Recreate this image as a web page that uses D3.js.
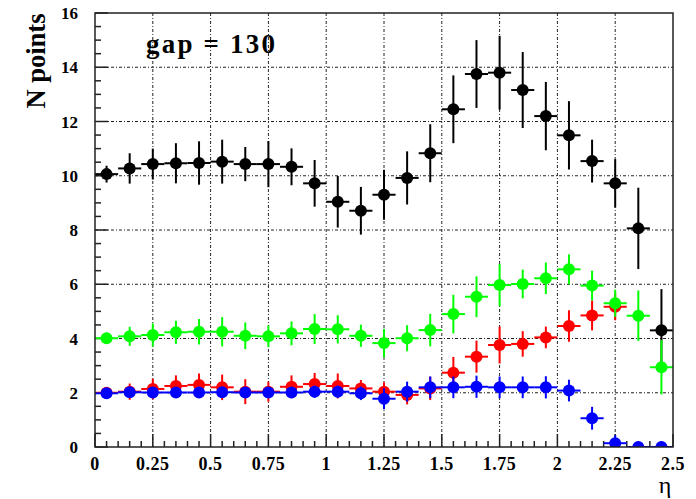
<!DOCTYPE html>
<html>
<head>
<meta charset="utf-8">
<script src="https://cdn.jsdelivr.net/npm/d3@7"></script>
<style>
  body { margin: 0; background: #fff; }
  text { font-family: "Liberation Serif", "DejaVu Serif", serif; }
</style>
</head>
<body>
<svg id="chart" width="696" height="499"></svg>
<script>
// bin centres in eta (bin width 0.1)
const eta = [0.05, 0.15, 0.25, 0.35, 0.45, 0.55, 0.65, 0.75, 0.85, 0.95,
  1.05, 1.15, 1.25, 1.35, 1.45, 1.55, 1.65, 1.75, 1.85, 1.95,
  2.05, 2.15, 2.25, 2.35, 2.45];

const blackVals = [10.06, 10.27, 10.43, 10.46, 10.47, 10.52, 10.43, 10.43, 10.33, 9.72,
  9.04, 8.71, 9.30, 9.92, 10.83, 12.45, 13.75, 13.80, 13.16, 12.20,
  11.49, 10.54, 9.72, 8.06, 4.30];
const blackErrs = [0.31, 0.56, 0.57, 0.74, 0.8, 0.81, 0.63, 0.85, 0.68, 0.86,
  0.95, 0.88, 0.92, 0.98, 1.07, 1.25, 1.25, 1.36, 1.4, 1.26,
  1.26, 0.79, 0.89, 1.5, 1.52];

const greenVals = [4.01, 4.08, 4.13, 4.23, 4.25, 4.25, 4.10, 4.08, 4.19, 4.35,
  4.34, 4.10, 3.83, 4.01, 4.31, 4.90, 5.54, 5.97, 6.01, 6.22,
  6.55, 5.95, 5.30, 4.84, 2.94];
const greenErrs = [0.2, 0.35, 0.43, 0.43, 0.47, 0.54, 0.49, 0.4, 0.44, 0.55,
  0.52, 0.41, 0.52, 0.48, 0.6, 0.71, 0.75, 0.78, 0.53, 0.58,
  0.55, 0.55, 0.5, 0.93, 1.0];

// red has no visible points above eta = 2.3
const redVals = [2.0, 2.04, 2.14, 2.25, 2.29, 2.2, 2.04, 2.04, 2.22, 2.32,
  2.25, 2.16, 2.04, 1.92, 2.16, 2.74, 3.33, 3.76, 3.80, 4.04,
  4.46, 4.85, 5.17];
const redErrs = [0.15, 0.3, 0.38, 0.39, 0.42, 0.47, 0.46, 0.37, 0.42, 0.41,
  0.46, 0.31, 0.35, 0.35, 0.43, 0.58, 0.59, 0.68, 0.47, 0.4,
  0.58, 0.55, 0.5];

const blueVals = [1.98, 2.02, 2.01, 2.01, 2.01, 2.02, 2.01, 2.01, 2.01, 2.04,
  2.04, 1.98, 1.78, 2.04, 2.2, 2.2, 2.22, 2.2, 2.2, 2.2,
  2.08, 1.06, 0.14, 0, 0];
const blueErrs = [0.1, 0.15, 0.18, 0.2, 0.2, 0.2, 0.2, 0.2, 0.2, 0.22,
  0.22, 0.25, 0.39, 0.37, 0.4, 0.4, 0.41, 0.4, 0.4, 0.41,
  0.4, 0.42, 0.3, 0, 0];

const xTickLabels = ["0", "0.25", "0.5", "0.75", "1", "1.25", "1.5", "1.75", "2", "2.25", "2.5"];
const yTickLabels = ["0", "2", "4", "6", "8", "10", "12", "14", "16"];

const series = [
  { color: "#000000", vals: blackVals, errs: blackErrs },
  { color: "#ff0000", vals: redVals, errs: redErrs },
  { color: "#00ff00", vals: greenVals, errs: greenErrs },
  { color: "#0000ff", vals: blueVals, errs: blueErrs },
];

const svg = d3.select("#chart"),
  margin = { top: 13, right: 23, bottom: 52, left: 95 },
  width = +svg.attr("width") - margin.left - margin.right,
  height = +svg.attr("height") - margin.top - margin.bottom;

const x = d3.scaleLinear().domain([0, 2.5]).range([0, width]);
const y = d3.scaleLinear().domain([0, 16]).range([height, 0]);
const binHalf = 0.05;

const chart = svg.append("g")
  .attr("transform", `translate(${margin.left},${margin.top})`);

svg.append("defs").append("clipPath").attr("id", "plotclip")
  .append("rect").attr("x", 0).attr("y", 0).attr("width", width).attr("height", height);

// grid
const xMajor = xTickLabels.map(Number);
const yMajor = yTickLabels.map(Number);
chart.append("g").selectAll("line")
  .data(xMajor.slice(1, -1))
  .join("line")
  .attr("x1", (d) => x(d)).attr("x2", (d) => x(d))
  .attr("y1", 0).attr("y2", height)
  .attr("stroke", "#222").attr("stroke-width", 1)
  .attr("stroke-dasharray", "3,2,1,2");
chart.append("g").selectAll("line")
  .data(yMajor.slice(1, -1))
  .join("line")
  .attr("x1", 0).attr("x2", width)
  .attr("y1", (d) => y(d)).attr("y2", (d) => y(d))
  .attr("stroke", "#222").attr("stroke-width", 1)
  .attr("stroke-dasharray", "3,2,1,2");

// ticks (inward, ROOT style)
const xMinor = d3.range(0, 2.5001, 0.05);
chart.append("g").selectAll("line")
  .data(xMinor)
  .join("line")
  .attr("x1", (d) => x(d)).attr("x2", (d) => x(d))
  .attr("y1", height)
  .attr("y2", (d) => height - (Math.abs(d / 0.25 - Math.round(d / 0.25)) < 1e-6 ? 13 : 6))
  .attr("stroke", "#222").attr("stroke-width", 1.5);
const yMinor = d3.range(0, 16.001, 0.5);
chart.append("g").selectAll("line")
  .data(yMinor)
  .join("line")
  .attr("y1", (d) => y(d)).attr("y2", (d) => y(d))
  .attr("x1", 0)
  .attr("x2", (d) => (d % 2 === 0 ? 13 : 6))
  .attr("stroke", "#222").attr("stroke-width", 1.5);

// points with error bars
const plot = chart.append("g").attr("clip-path", "url(#plotclip)");
series.forEach((s) => {
  const pts = s.vals.map((v, i) => ({ x: eta[i], v: v, e: s.errs[i] }));
  const g = plot.append("g");
  g.selectAll("line.h").data(pts).join("line")
    .attr("class", "h")
    .attr("x1", (d) => x(d.x - binHalf)).attr("x2", (d) => x(d.x + binHalf))
    .attr("y1", (d) => y(d.v)).attr("y2", (d) => y(d.v))
    .attr("stroke", s.color).attr("stroke-width", 2);
  g.selectAll("line.v").data(pts.filter((d) => d.e > 0)).join("line")
    .attr("class", "v")
    .attr("x1", (d) => x(d.x)).attr("x2", (d) => x(d.x))
    .attr("y1", (d) => y(d.v - d.e)).attr("y2", (d) => y(d.v + d.e))
    .attr("stroke", s.color).attr("stroke-width", 2);
  g.selectAll("circle").data(pts).join("circle")
    .attr("cx", (d) => x(d.x)).attr("cy", (d) => y(d.v))
    .attr("r", 6).attr("fill", s.color);
});

// frame
chart.append("rect")
  .attr("x", 0).attr("y", 0).attr("width", width).attr("height", height)
  .attr("fill", "none").attr("stroke", "#222").attr("stroke-width", 1.5);

// tick labels
chart.append("g").selectAll("text")
  .data(xTickLabels)
  .join("text")
  .attr("x", (d) => x(+d))
  .attr("y", height + 23)
  .attr("text-anchor", "middle")
  .attr("font-size", 18).attr("font-weight", "bold")
  .style("letter-spacing", "0.5px")
  .text((d) => d);
chart.append("g").selectAll("text")
  .data(yTickLabels)
  .join("text")
  .attr("x", -17)
  .attr("y", (d) => y(+d) + 6)
  .attr("text-anchor", "end")
  .attr("font-size", 17).attr("font-weight", "bold")
  .text((d) => d);

// axis titles
svg.append("text")
  .attr("transform", "translate(45,61) rotate(-90)")
  .attr("text-anchor", "middle")
  .attr("font-size", 27).attr("font-weight", "bold")
  .attr("textLength", 95).attr("lengthAdjust", "spacingAndGlyphs")
  .text("N points");
svg.append("text")
  .attr("x", 665).attr("y", 493)
  .attr("text-anchor", "middle")
  .attr("font-size", 24)
  .text("η");

// annotation
svg.append("text")
  .attr("x", 146).attr("y", 53)
  .attr("font-size", 27).attr("font-weight", "bold")
  .attr("textLength", 129).attr("lengthAdjust", "spacing")
  .text("gap = 130");
</script>
</body>
</html>
